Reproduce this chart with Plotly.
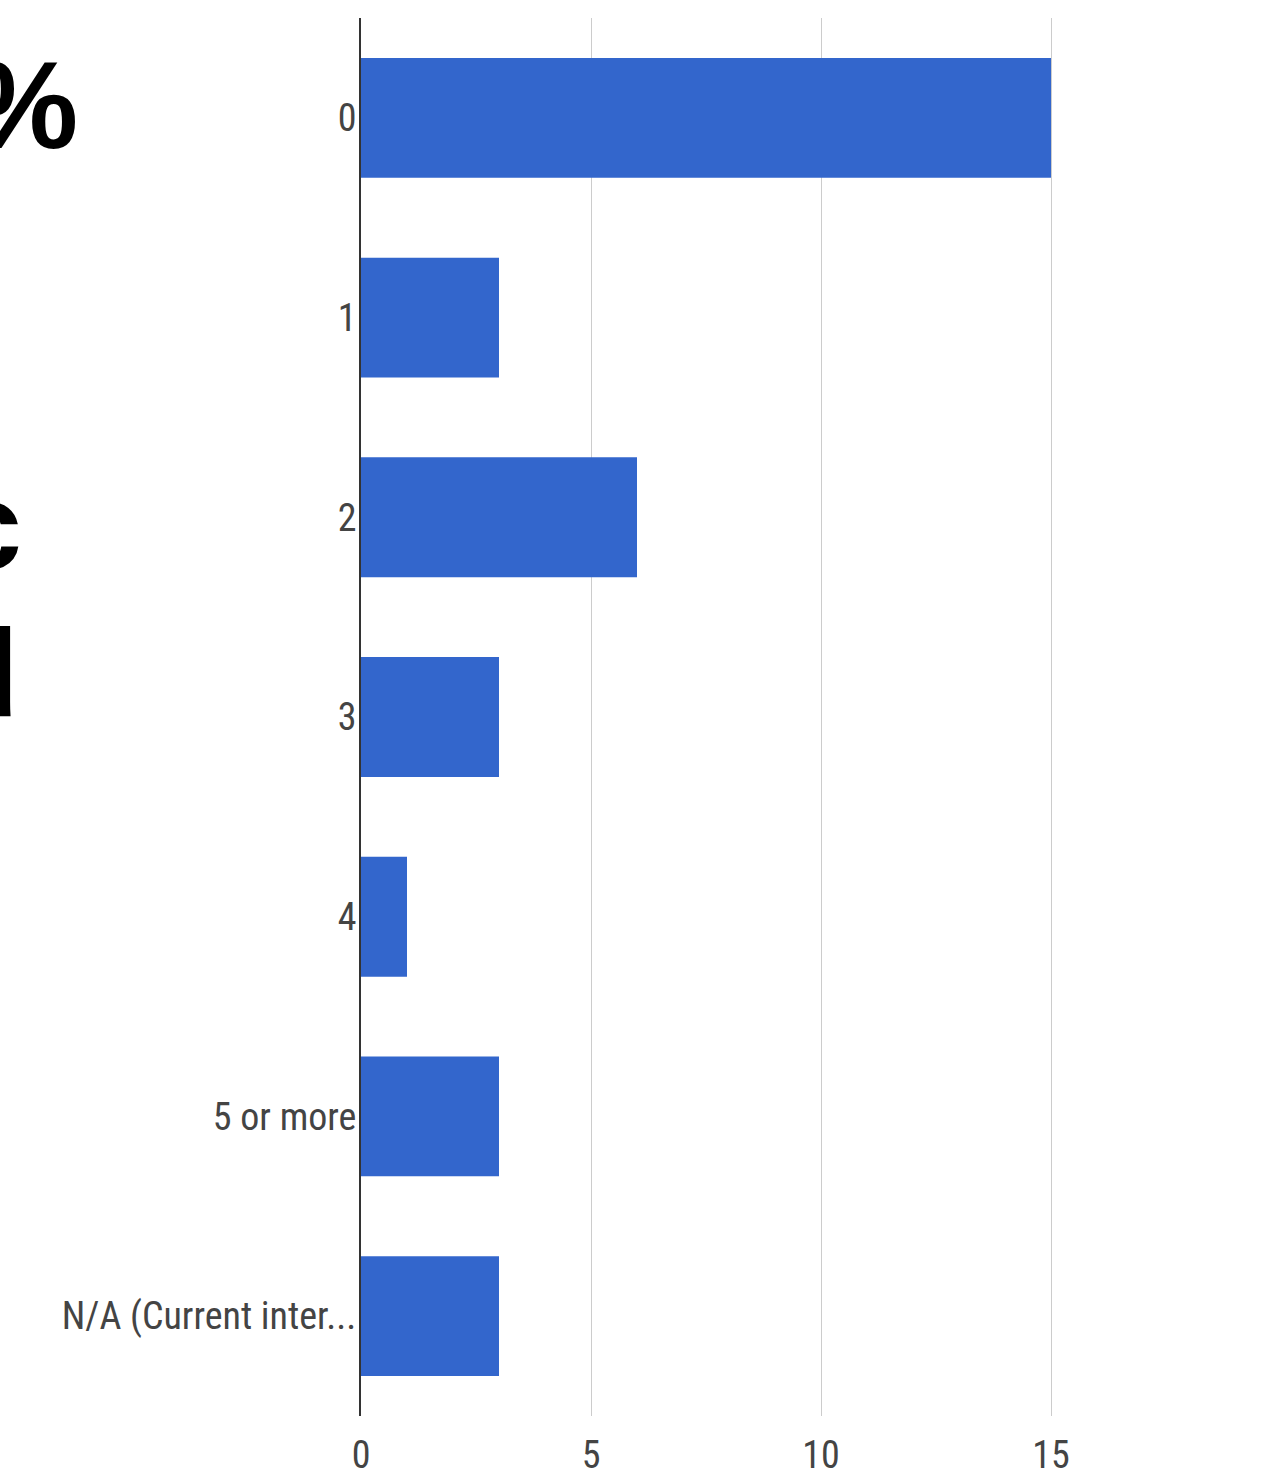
import plotly.graph_objects as go

categories = ["0", "1", "2", "3", "4", "5 or more", "N/A (Current inter..."]
counts = [15, 3, 6, 3, 1, 3, 3]
x_ticks = [0, 5, 10, 15]

W, H = 1261, 1470
ML, MR, MT, MB = 361, 0, 18, 54
PW = W - ML - MR
PX_PER_UNIT = 46.0

def px_to_paper_x(px):
    return (px - ML) / PW

def px_to_paper_y(py):
    return 1 - (py - MT) / (H - MT - MB)

narrow = "Liberation Sans Narrow, Arial Narrow, Roboto Condensed, Arial, sans-serif"

fig = go.Figure(go.Bar(
    x=counts, y=categories, orientation="h",
    marker=dict(color="#3366cc", line=dict(width=0)),
    hoverinfo="x+y",
))

fig.update_layout(
    width=W, height=H,
    margin=dict(l=ML, r=MR, t=MT, b=MB, pad=0, autoexpand=False),
    paper_bgcolor="white", plot_bgcolor="white",
    bargap=0.4, showlegend=False,
    font=dict(family=narrow, size=38, color="#444444"),
)
fig.update_xaxes(
    range=[0, PW / PX_PER_UNIT], automargin=False,
    tickvals=x_ticks, ticktext=[str(v) for v in x_ticks],
    showgrid=True, gridcolor="#cccccc", gridwidth=1,
    zeroline=False, showline=False, ticks="",
    ticklabelstandoff=13,
    tickfont=dict(family=narrow, size=38, color="#444444"),
)
fig.update_yaxes(
    autorange="reversed", automargin=False,
    showline=True, linecolor="#333333", linewidth=2,
    showgrid=False, ticks="", ticklabelstandoff=-5,
    tickfont=dict(family=narrow, size=38, color="#444444"),
)

big = dict(family="Liberation Sans, Arial, sans-serif", size=124, color="black", weight="bold")
fragments = [("%", 80, 150), ("c", 24, 571), ("d", 21, 718)]
for txt, right_px, base_px in fragments:
    fig.add_annotation(
        text="<b>" + txt + "</b>", xref="paper", yref="paper",
        x=px_to_paper_x(right_px), y=px_to_paper_y(base_px + 26),
        xanchor="right", yanchor="bottom", showarrow=False,
        font=big,
    )

fig.write_html("out.html")
